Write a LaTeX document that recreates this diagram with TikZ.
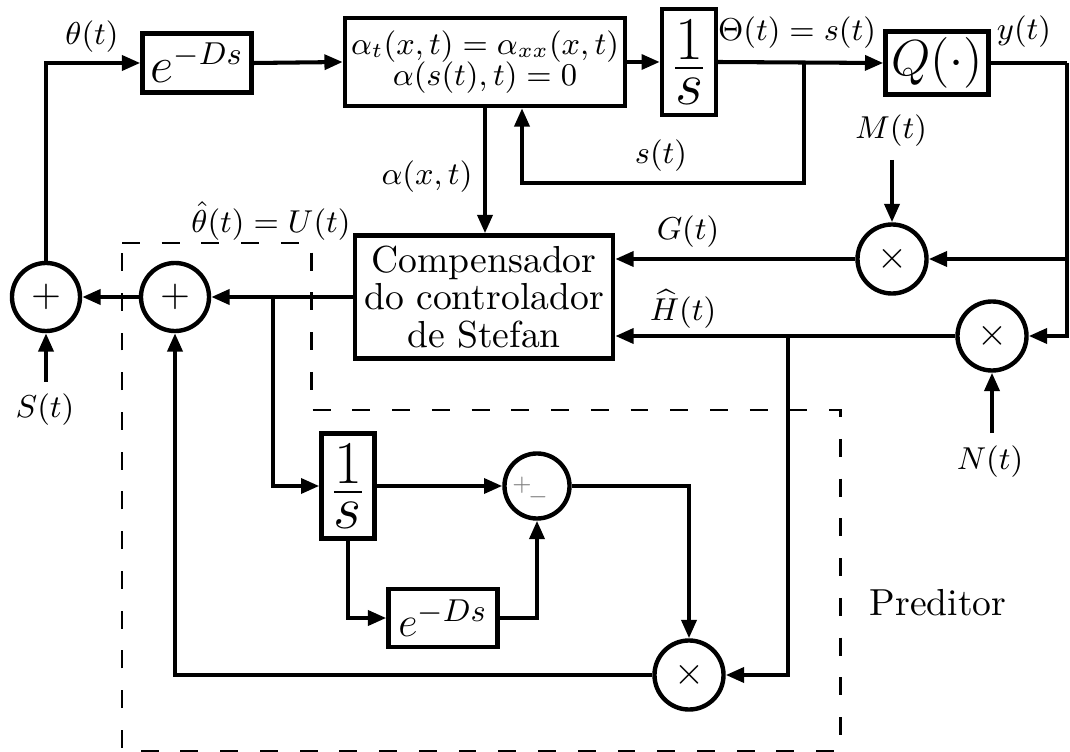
\documentclass[tikz,border=0pt]{standalone}
\usepackage{amsmath}
\usetikzlibrary{arrows.meta}
\begin{document}
\begin{tikzpicture}[x=0.01cm,y=-0.01cm,
  blk/.style={draw, line width=1.25pt, inner sep=0pt, align=center},
  sumc/.style={draw, circle, line width=1.25pt, minimum size=0.68cm, inner sep=0pt, font=\fontsize{10.5}{10.5}\selectfont},
  conn/.style={line width=1.15pt},
  arr/.style={conn, -{Triangle[length=5.2pt,width=4.2pt]}},
  lbl/.style={font=\fontsize{9.2}{10}\selectfont, inner sep=0pt},
  txt/.style={font=\fontsize{10.7}{10.7}\selectfont, inner sep=0pt, align=center},
  dashbox/.style={line width=0.85pt, dash pattern=on 5.1pt off 6.2pt}]
\useasboundingbox (0,0) rectangle (1070,752);

% blocks
\node[blk, minimum width=1.09cm, minimum height=0.59cm, font=\fontsize{13.5}{13.5}\selectfont] (e1) at (197,63) {$e^{-Ds}$};
\node[blk, minimum width=2.80cm, minimum height=0.88cm, font=\fontsize{9.2}{10}\selectfont] (pde) at (485,62) {$\alpha_t(x,t) = \alpha_{xx}(x,t)$\\[-1pt]$\alpha(s(t),t) = 0$};
\node[blk, minimum width=0.54cm, minimum height=1.06cm, font=\fontsize{19}{19}\selectfont] (int1) at (689,62) {$\frac{\displaystyle 1}{\displaystyle s}$};
\node[blk, minimum width=1.03cm, minimum height=0.63cm, font=\fontsize{14}{14}\selectfont] (Q) at (937,63) {$Q(\cdot)$};
\node[blk, minimum width=2.58cm, minimum height=1.23cm, font=\fontsize{10.7}{10.7}\selectfont] (comp) at (484,297) {Compensador\\do controlador\\de Stefan};
\node[blk, minimum width=0.53cm, minimum height=1.05cm, font=\fontsize{18.5}{18.5}\selectfont] (int2) at (348,486) {$\frac{\displaystyle 1}{\displaystyle s}$};
\node[blk, minimum width=1.09cm, minimum height=0.58cm, font=\fontsize{12.5}{12.5}\selectfont] (e2) at (443,618) {$e^{-Ds}$};

% circles
\node[sumc] (s1) at (46,297) {$+$};
\node[sumc] (s2) at (175,297) {$+$};
\node[sumc, minimum size=0.69cm] (m1) at (892,259) {$\times$};
\node[sumc, minimum size=0.69cm] (m2) at (992,336) {$\times$};
\node[sumc, minimum size=0.65cm] (pm) at (537,486) {};
\node[sumc, minimum size=0.69cm] (m3) at (689,675) {$\times$};
\node[inner sep=0pt, text=gray, font=\fontsize{6}{6}\selectfont] (pmp) at (522,485) {$+$};
\node[inner sep=0pt, text=gray, font=\fontsize{6}{6}\selectfont] (pmm) at (538,497) {$-$};

% coordinates
\coordinate (j1) at (804,62);
\coordinate (fbl) at (522,183);
\coordinate (ry) at (1067,63);
\coordinate (Mst) at (892,160);
\coordinate (Nst) at (992,433);
\coordinate (Sst) at (46,382);
\coordinate (hb) at (788,336);
\coordinate (ub) at (273,297);

% connectors top
\draw[arr] (s1.north) |- (e1.west);
\draw[arr] (e1.east) -- (pde.west);
\draw[arr] (pde.east) -- (int1.west);
\draw[arr] (int1.east) -- (Q.west);
\draw[arr] (j1) |- (fbl) -- (fbl |- pde.south);
\draw[conn] (Q.east) -- (ry);
\draw[arr] (ry) |- (m2.east);
\draw[arr] (ry |- m1.east) -- (m1.east);
\draw[arr] (Mst) -- (m1.north);
\draw[arr] (Nst) -- (m2.south);
\draw[arr] (m1.west) -- (m1.west -| comp.east);
\draw[arr] (m2.west) -- (m2.west -| comp.east);
\draw[arr] (pde.south) -- (pde.south |- comp.north);
\draw[arr] (comp.west) -- (s2.east);
\draw[arr] (s2.west) -- (s1.east);
\draw[arr] (Sst) -- (s1.south);

% predictor
\draw[arr] (ub) |- (int2.west);
\draw[arr] (int2.east) -- (pm.west);
\draw[arr] (int2.south) |- (e2.west);
\draw[arr] (e2.east) -| (pm.south);
\draw[arr] (pm.east) -| (m3.north);
\draw[arr] (hb) |- (m3.east);
\draw[arr] (m3.west) -| (s2.south);

% dashed region
\draw[dashbox] (122,243) -- (311,243) -- (311,410) -- (840,410) -- (840,751) -- (122,751) -- cycle;

% labels
\node[lbl] (Lth) at (92,37) {$\theta(t)$};
\node[lbl] (LTh) at (797,33) {$\Theta(t) = s(t)$};
\node[lbl] (Ly) at (1024,32) {$y(t)$};
\node[lbl] (LM) at (891,131) {$M(t)$};
\node[lbl] (Ls) at (661,156) {$s(t)$};
\node[lbl] (Lal) at (427,177) {$\alpha(x,t)$};
\node[lbl] (LU) at (271,221) {$\hat{\theta}(t) = U(t)$};
\node[lbl] (LG) at (688,232) {$G(t)$};
\node[lbl] (LH) at (683,309) {$\widehat{H}(t)$};
\node[lbl] (LS) at (45,410) {$S(t)$};
\node[lbl] (LN) at (990,462) {$N(t)$};
\node[txt] (Lp) at (938,603) {Preditor};
\end{tikzpicture}
\end{document}
